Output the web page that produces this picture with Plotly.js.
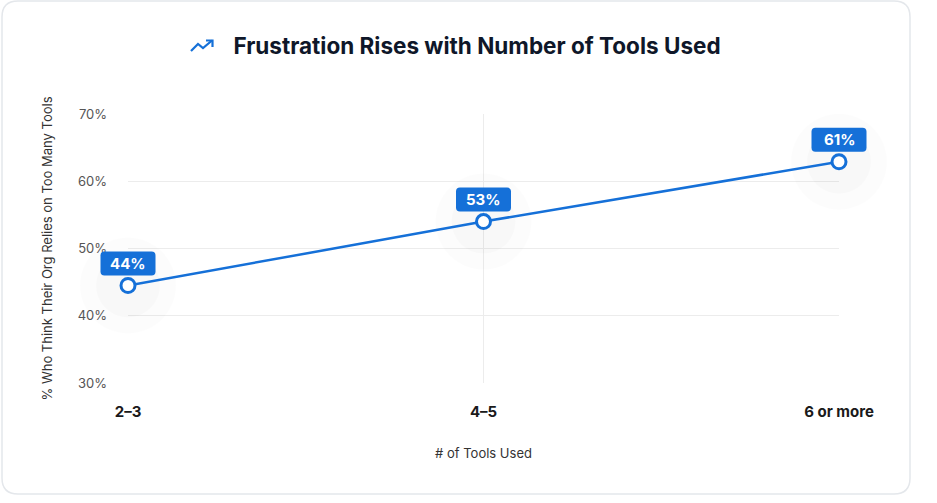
<!DOCTYPE html>
<html>
<head>
<meta charset="utf-8">
<script src="https://cdn.plot.ly/plotly-3.0.1.min.js"></script>
<style>html,body{margin:0;padding:0;background:#fff;}#chart{width:937px;height:503px;}</style>
</head>
<body>
<div id="chart"></div>
<script>
// ---- data ----
var categories = ["2\u20133", "4\u20135", "6 or more"];
var values = [44.5, 54.0, 62.9];          // plotted positions
var valueLabels = ["44%", "53%", "61%"];   // labels printed on the chart
var yTickVals = [30, 40, 50, 60, 70];
var yTickText = ["30%", "40%", "50%", "60%", "70%"];

// ---- layout geometry ----
var W = 937, H = 503, L = 128, R = 98, T = 114, B = 120;
var pw = W - L - R, ph = H - T - B;
function px(x) { return (x - L) / pw; }
function py(y) { return (H - B - y) / ph; }

var blue = "#1570d8";

function roundRectPaper(x0, y0, x1, y1, r) {
  return "M" + px(x0 + r) + "," + py(y0) +
    " L" + px(x1 - r) + "," + py(y0) +
    " Q" + px(x1) + "," + py(y0) + " " + px(x1) + "," + py(y0 + r) +
    " L" + px(x1) + "," + py(y1 - r) +
    " Q" + px(x1) + "," + py(y1) + " " + px(x1 - r) + "," + py(y1) +
    " L" + px(x0 + r) + "," + py(y1) +
    " Q" + px(x0) + "," + py(y1) + " " + px(x0) + "," + py(y1 - r) +
    " L" + px(x0) + "," + py(y0 + r) +
    " Q" + px(x0) + "," + py(y0) + " " + px(x0 + r) + "," + py(y0) + " Z";
}

// rounded label box in pixel offsets relative to anchor (y positive up)
function labelBox(w, h, yc, r) {
  var x0 = -w / 2, x1 = w / 2, y0 = yc - h / 2, y1 = yc + h / 2;
  return "M" + (x0 + r) + "," + y0 +
    " L" + (x1 - r) + "," + y0 +
    " Q" + x1 + "," + y0 + " " + x1 + "," + (y0 + r) +
    " L" + x1 + "," + (y1 - r) +
    " Q" + x1 + "," + y1 + " " + (x1 - r) + "," + y1 +
    " L" + (x0 + r) + "," + y1 +
    " Q" + x0 + "," + y1 + " " + x0 + "," + (y1 - r) +
    " L" + x0 + "," + (y0 + r) +
    " Q" + x0 + "," + y0 + " " + (x0 + r) + "," + y0 + " Z";
}

var shapes = [];
shapes.push({
  type: "path", xref: "paper", yref: "paper", layer: "below",
  path: roundRectPaper(2, 1, 910, 494, 16),
  line: { color: "#e4e7eb", width: 1.5 }, fillcolor: "rgba(0,0,0,0)"
});
shapes.push({
  type: "path", xref: "paper", yref: "paper",
  path: "M" + px(191) + "," + py(51) + " L" + px(198) + "," + py(44) + " L" + px(203) + "," + py(48) + " L" + px(212) + "," + py(40.5),
  line: { color: blue, width: 2.2 }
});
shapes.push({
  type: "path", xref: "paper", yref: "paper",
  path: "M" + px(206) + "," + py(40.5) + " L" + px(212.5) + "," + py(40.5) + " L" + px(212.5) + "," + py(47),
  line: { color: blue, width: 2.2 }
});

var traces = [
  { x: categories, y: values, type: "scatter", mode: "markers", hoverinfo: "skip", cliponaxis: false,
    marker: { size: 96, color: "rgba(0,0,0,0.012)", line: { width: 0 } } },
  { x: categories, y: values, type: "scatter", mode: "markers", hoverinfo: "skip", cliponaxis: false,
    marker: { size: 64, color: "rgba(0,0,0,0.015)", line: { width: 0 } } },
  { x: categories, y: values, type: "scatter", mode: "lines+markers", cliponaxis: false,
    line: { color: blue, width: 2.5 },
    marker: { size: 14, color: "#ffffff", line: { color: blue, width: 3 } } }
];

var layout = {
  width: W, height: H,
  margin: { l: L, r: R, t: T, b: B, pad: 0 },
  paper_bgcolor: "#ffffff", plot_bgcolor: "#ffffff",
  showlegend: false,
  font: { family: "Inter, sans-serif", color: "#333" },
  title: {
    text: "<b>Frustration Rises with Number of Tools Used</b>",
    x: 477 / W, xref: "container", xanchor: "center",
    y: 1 - 46 / H, yref: "container", yanchor: "middle",
    font: { family: "Inter, sans-serif", size: 22.5, color: "#0f1729" }
  },
  xaxis: {
    type: "category", range: [0, 2], fixedrange: true,
    showgrid: true, gridcolor: "#ececec", gridwidth: 1,
    showline: false, zeroline: false, ticks: "",
    ticklabelstandoff: 18,
    tickfont: { family: "Inter, sans-serif", size: 15, color: "#1a1a1a", weight: "bold" },
    title: { text: "# of Tools Used", standoff: 28, font: { family: "Inter, sans-serif", size: 13, color: "#333" } }
  },
  yaxis: {
    range: [30, 70], fixedrange: true,
    tickvals: yTickVals, ticktext: yTickText,
    showgrid: true, gridcolor: "#ececec", gridwidth: 1,
    showline: false, zeroline: false, ticks: "",
    ticklabelstandoff: 20,
    tickfont: { family: "Inter, sans-serif", size: 13, color: "#555" },
    title: { text: "% Who Think Their Org Relies on Too Many Tools", standoff: 22, font: { family: "Inter, sans-serif", size: 13, color: "#333" } }
  },
  shapes: shapes,
  annotations: []
};

var gd = document.getElementById("chart");
Plotly.newPlot(gd, traces, layout, { displayModeBar: false, staticPlot: true }).then(function () {
  // place rounded value labels using the library's own axis scales (unclipped, paper refs)
  var xa = gd._fullLayout.xaxis, ya = gd._fullLayout.yaxis;
  var newShapes = shapes.slice();
  var anns = [];
  for (var i = 0; i < categories.length; i++) {
    var xp = xa.d2p(categories[i]) / xa._length;
    var yp = 1 - ya.d2p(values[i]) / ya._length;
    newShapes.push({
      type: "path", xref: "paper", yref: "paper", layer: "above",
      xsizemode: "pixel", ysizemode: "pixel", xanchor: xp, yanchor: yp,
      path: labelBox(55, 24, 22, 4),
      line: { width: 0 }, fillcolor: blue
    });
    anns.push({
      x: categories[i], y: values[i], xref: "x", yref: "y",
      text: "<b>" + valueLabels[i] + "</b>", showarrow: false,
      yshift: 22, font: { family: "Inter, sans-serif", size: 15, color: "#ffffff" }
    });
  }
  return Plotly.relayout(gd, { shapes: newShapes, annotations: anns });
});
</script>
</body>
</html>
